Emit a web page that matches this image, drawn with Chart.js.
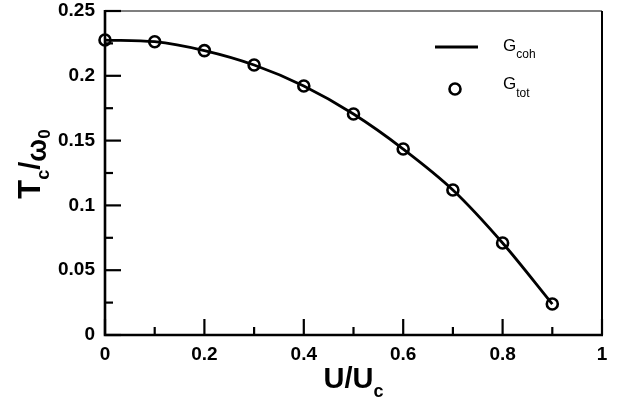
<!DOCTYPE html>
<html>
<head>
<meta charset="utf-8">
<script src="https://cdn.jsdelivr.net/npm/chart.js@4.4.1/dist/chart.umd.min.js"></script>
<style>
    html, body { margin: 0; padding: 0; background: #fff; }
    #wrap { width: 623px; height: 405px; }
</style>
</head>
<body>
<div id="wrap"><canvas id="chart" width="623" height="405"></canvas></div>
<script>
// values
const uValues = [0, 0.1, 0.2, 0.3, 0.4, 0.5, 0.6, 0.7, 0.8, 0.9];
const gCoh = [0.2276, 0.2263, 0.2194, 0.2083, 0.1921, 0.1705, 0.1435, 0.1119, 0.0710, 0.0239];
const gTot = [0.2276, 0.2263, 0.2194, 0.2083, 0.1921, 0.1705, 0.1435, 0.1119, 0.0710, 0.0239];

const xMajor = [0, 0.2, 0.4, 0.6, 0.8, 1];
const xMinor = [0.1, 0.3, 0.5, 0.7, 0.9];
const yMajor = [0, 0.05, 0.1, 0.15, 0.2, 0.25];
const yMinor = [0.025, 0.075, 0.125, 0.175, 0.225];

const FONT = "'Liberation Sans', Arial, Helvetica, sans-serif";

const toPoints = (xs, ys) => xs.map((x, i) => ({ x: x, y: ys[i] }));

// draw a run of text pieces, each with its own font and baseline shift
function drawParts(ctx, x, y, parts) {
    let cx = x;
    parts.forEach(p => {
        ctx.font = p.font;
        ctx.fillText(p.t, cx, y + (p.dy || 0));
        cx += ctx.measureText(p.t).width;
    });
}
function partsWidth(ctx, parts) {
    let w = 0;
    parts.forEach(p => { ctx.font = p.font; w += ctx.measureText(p.t).width; });
    return w;
}

const framePlugin = {
    id: "frame",
    beforeDatasetsDraw(chart) {
        const ctx = chart.ctx;
        const a = chart.chartArea;
        const xs = chart.scales.x, ys = chart.scales.y;
        ctx.save();
        ctx.strokeStyle = "#000";
        ctx.lineCap = "butt";

        // box
        ctx.lineWidth = 1.2;
        ctx.beginPath();
        ctx.moveTo(a.left, a.top); ctx.lineTo(a.right, a.top);
        ctx.stroke();
        ctx.lineWidth = 2;
        ctx.beginPath();
        ctx.moveTo(a.right, a.top); ctx.lineTo(a.right, a.bottom);
        ctx.stroke();
        ctx.lineWidth = 2.6;
        ctx.beginPath();
        ctx.moveTo(a.left, a.top - 1); ctx.lineTo(a.left, a.bottom);
        ctx.lineTo(a.right + 1, a.bottom);
        ctx.stroke();

        // inward ticks
        ctx.lineWidth = 2.2;
        const tick = (v, len, axis) => {
            ctx.beginPath();
            if (axis === "x") {
                const px = xs.getPixelForValue(v);
                ctx.moveTo(px, a.bottom); ctx.lineTo(px, a.bottom - len);
            } else {
                const py = ys.getPixelForValue(v);
                ctx.moveTo(a.left, py); ctx.lineTo(a.left + len, py);
            }
            ctx.stroke();
        };
        xMajor.forEach(v => tick(v, 16, "x"));
        xMinor.forEach(v => tick(v, 8, "x"));
        yMajor.forEach(v => tick(v, 16, "y"));
        yMinor.forEach(v => tick(v, 8, "y"));

        // axis titles
        ctx.fillStyle = "#000";
        ctx.textBaseline = "alphabetic";
        ctx.textAlign = "left";
        const xTitle = [
            { t: "U/U", font: "bold 29px " + FONT },
            { t: "c", font: "bold 18px " + FONT, dy: 9 }
        ];
        const xw = partsWidth(ctx, xTitle);
        drawParts(ctx, (a.left + a.right) / 2 - xw / 2, 388, xTitle);

        const yTitle = [
            { t: "T", font: "bold 31px " + FONT },
            { t: "c", font: "bold 18px " + FONT, dy: 9 },
            { t: "/", font: "bold 29px " + FONT },
            { t: "\u03c9", font: "bold 27px " + FONT, dy: 6 },
            { t: "0", font: "bold 17px " + FONT, dy: 10 }
        ];
        const yw = partsWidth(ctx, yTitle);
        ctx.save();
        ctx.translate(40, 164);
        ctx.rotate(-Math.PI / 2);
        drawParts(ctx, -yw / 2, 0, yTitle);
        ctx.restore();

        // legend
        ctx.lineWidth = 3;
        ctx.beginPath();
        ctx.moveTo(435, 47); ctx.lineTo(478, 47);
        ctx.stroke();
        ctx.lineWidth = 2.6;
        ctx.beginPath();
        ctx.arc(455, 89, 5.5, 0, Math.PI * 2);
        ctx.stroke();
        drawParts(ctx, 503, 51, [
            { t: "G", font: "17px " + FONT },
            { t: "coh", font: "12px " + FONT, dy: 7 }
        ]);
        drawParts(ctx, 503, 89, [
            { t: "G", font: "17px " + FONT },
            { t: "tot", font: "12px " + FONT, dy: 8 }
        ]);
        ctx.restore();
    }
};

const ctx = document.getElementById("chart");
const chart = new Chart(ctx, {
    type: "scatter",
    data: {
        datasets: [
            {
                label: "Gcoh",
                data: toPoints(uValues, gCoh),
                showLine: true,
                borderColor: "#000",
                borderWidth: 2.8,
                pointRadius: 0,
                cubicInterpolationMode: "monotone",
                order: 2
            },
            {
                label: "Gtot",
                data: toPoints(uValues, gTot),
                showLine: false,
                clip: false,
                pointStyle: "circle",
                pointRadius: 5.5,
                pointBorderWidth: 2.6,
                borderColor: "#000",
                backgroundColor: "rgba(0,0,0,0)",
                order: 1
            }
        ]
    },
    options: {
        responsive: false,
        animation: false,
        layout: { padding: { top: 11, right: 21, left: 0, bottom: 0 } },
        plugins: {
            legend: { display: false },
            tooltip: { enabled: false }
        },
        scales: {
            x: {
                type: "linear",
                min: 0,
                max: 1,
                afterBuildTicks: s => { s.ticks = xMajor.map(v => ({ value: v })); },
                afterFit: s => { s.height = 70; s.paddingLeft = 0; s.paddingRight = 0; },
                grid: { display: false, drawTicks: false },
                border: { display: false },
                ticks: {
                    padding: 8,
                    color: "#000",
                    font: { family: FONT, size: 19, weight: "bold" },
                    callback: v => String(v)
                }
            },
            y: {
                min: 0,
                max: 0.25,
                afterBuildTicks: s => { s.ticks = yMajor.map(v => ({ value: v })); },
                afterFit: s => { s.width = 105; s.paddingTop = 0; s.paddingBottom = 0; },
                grid: { display: false, drawTicks: false },
                border: { display: false },
                ticks: {
                    padding: 10,
                    color: "#000",
                    font: { family: FONT, size: 19, weight: "bold" },
                    callback: v => String(v)
                }
            }
        }
    },
    plugins: [framePlugin]
});
</script>
</body>
</html>
